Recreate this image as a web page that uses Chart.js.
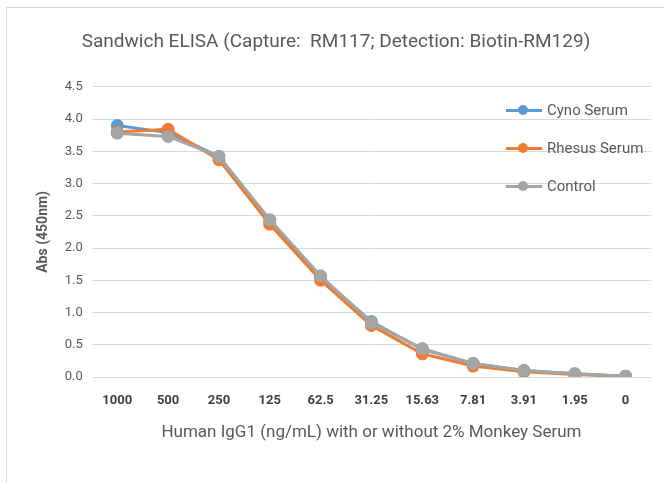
<!DOCTYPE html>
<html>
<head>
<meta charset="utf-8">
<script src="https://cdn.jsdelivr.net/npm/chart.js@4/dist/chart.umd.min.js"></script>
<style>
  html, body { margin: 0; padding: 0; background: #fff; }
  #wrap { position: relative; width: 664px; height: 483px; }
  #frame { position: absolute; left: 6px; top: 7px; right: -2px; bottom: -2px; border: 1px solid #d9d9d9; }
  #myChart { position: absolute; left: 0; top: 0; }
  #legend { position: absolute; left: 506px; top: 91px; font-family: 'Roboto', sans-serif; font-size: 15px; color: #595959; }
  .item { display: flex; align-items: center; height: 38px; }
  .mark { position: relative; width: 36px; height: 12px; margin-right: 5px; }
  .mark .ln { position: absolute; left: 0; right: 0; top: 4.5px; height: 3px; }
  .mark .pt { position: absolute; left: 12px; top: 1px; width: 10px; height: 10px; border-radius: 50%; }
</style>
</head>
<body>
<div id="wrap">
  <div id="frame"></div>
  <canvas id="myChart" width="664" height="483"></canvas>
  <div id="legend"></div>
</div>
<script>
const concentrations = ['1000', '500', '250', '125', '62.5', '31.25', '15.63', '7.81', '3.91', '1.95', '0'];
const cynoSerum = [3.90, 3.79, 3.42, 2.43, 1.55, 0.86, 0.43, 0.21, 0.10, 0.05, 0.01];
const rhesusSerum = [3.80, 3.84, 3.37, 2.37, 1.50, 0.80, 0.36, 0.17, 0.08, 0.04, 0.01];
const control = [3.78, 3.73, 3.42, 2.44, 1.57, 0.84, 0.44, 0.21, 0.10, 0.05, 0.01];

const FONT = "'Roboto', sans-serif";
const TXT = '#595959';

function series(label, data, color, order) {
  return {
    label: label,
    data: data,
    order: order,
    borderColor: color,
    backgroundColor: color,
    borderWidth: 3,
    pointRadius: 5,
    pointHoverRadius: 5,
    tension: 0,
    fill: false
  };
}

const ctx = document.getElementById('myChart').getContext('2d');
const chart = new Chart(ctx, {
  type: 'line',
  data: {
    labels: concentrations,
    datasets: [
      series('Cyno Serum', cynoSerum, '#5B9BD5', 2),
      series('Rhesus Serum', rhesusSerum, '#ED7D31', 1),
      series('Control', control, '#A5A5A5', 0)
    ]
  },
  options: {
    responsive: false,
    animation: false,
    layout: { padding: { left: 21, right: 13, top: 10, bottom: 36 } },
    plugins: {
      legend: { display: false },
      tooltip: { enabled: false },
      title: {
        display: true,
        text: 'Sandwich ELISA (Capture:  RM117; Detection: Biotin-RM129)',
        color: TXT,
        font: { family: FONT, size: 19, weight: 'normal' },
        padding: { top: 21, bottom: 33 }
      }
    },
    scales: {
      x: {
        offset: true,
        grid: { display: false },
        border: { display: false },
        ticks: { color: '#404040', font: { family: FONT, size: 13, weight: 'bold' }, maxRotation: 0, padding: 8 },
        title: { display: true, text: 'Human IgG1 (ng/mL) with or without 2% Monkey Serum', color: TXT, font: { family: FONT, size: 17 }, padding: { top: 6 } }
      },
      y: {
        min: 0,
        max: 4.5,
        grid: { color: '#d9d9d9', lineWidth: 1, drawTicks: false },
        border: { display: false },
        ticks: { stepSize: 0.5, color: TXT, font: { family: FONT, size: 13 }, padding: 9, callback: v => v.toFixed(1) },
        title: { display: true, text: 'Abs (450nm)', color: TXT, font: { family: FONT, size: 14, weight: 'bold' }, padding: { top: 14, bottom: 4 } }
      }
    }
  }
});

// legend drawn as html over the plot
const legendEl = document.getElementById('legend');
chart.data.datasets.forEach(ds => {
  const item = document.createElement('div');
  item.className = 'item';
  item.innerHTML = '<div class="mark"><div class="ln" style="background:' + ds.borderColor + '"></div><div class="pt" style="background:' + ds.borderColor + '"></div></div><span>' + ds.label + '</span>';
  legendEl.appendChild(item);
});
</script>
</body>
</html>
